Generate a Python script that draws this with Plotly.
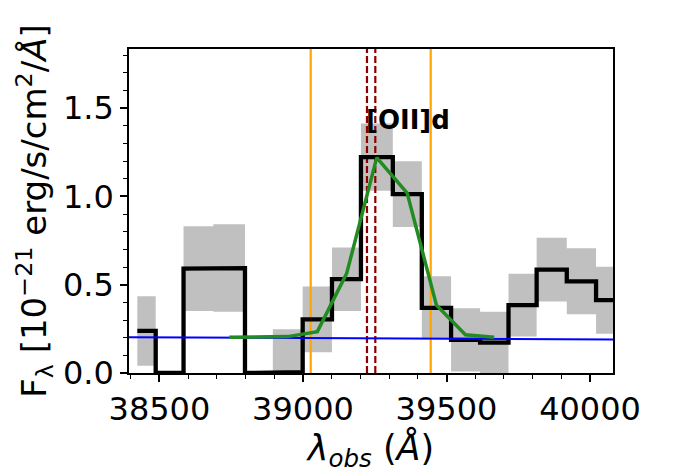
import numpy as np
import plotly.graph_objects as go

# Binned spectrum: bin edges (Angstrom), flux and 1-sigma error (1e-21 erg/s/cm^2/A)
bin_edges = [38423, 38487, 38584, 38688, 38798, 38895, 38999, 39101, 39202,
             39313, 39414, 39516, 39617, 39716, 39814, 39919, 40021, 40120]
flux = [0.238, 0.0, 0.591, 0.594, 0.0, 0.005, 0.304, 0.531, 1.222, 1.012,
        0.369, 0.188, 0.172, 0.384, 0.585, 0.519, 0.412]
flux_err = [0.197, 0.0, 0.240, 0.248, 0.0, 0.243, 0.186, 0.180, 0.190, 0.186,
            0.178, 0.179, 0.175, 0.178, 0.180, 0.187, 0.190]

# Best-fit line model evaluated at bin centres
model_wave = [38743, 38846, 38947, 39050, 39152, 39257, 39363, 39465, 39566, 39666]
model_flux = [0.203, 0.203, 0.206, 0.234, 0.5625, 1.219, 1.018, 0.384, 0.216, 0.203]

# Continuum level
cont_wave = [38394, 40080]
cont_flux = [0.203, 0.190]

# Integration window and [OII] doublet positions
window_lines = [39027, 39445]
oii_lines = [39223, 39252]
line_label = "[OII]d"
label_pos = (39213, 1.434)

x_range = [38394, 40080]
y_range = [0, 1.834]


def step_path(edges, values):
    xs, ys = [], []
    for i, v in enumerate(values):
        xs += [edges[i], edges[i + 1]]
        ys += [v, v]
    return xs, ys


lower = [f - e for f, e in zip(flux, flux_err)]
upper = [f + e for f, e in zip(flux, flux_err)]

fig = go.Figure()

xl, yl = step_path(bin_edges, lower)
xu, yu = step_path(bin_edges, upper)
fig.add_trace(go.Scatter(x=xl, y=yl, mode="lines", line=dict(width=0),
                         hoverinfo="skip"))
fig.add_trace(go.Scatter(x=xu, y=yu, mode="lines", line=dict(width=0),
                         fill="tonexty", fillcolor="rgb(192,192,192)",
                         hoverinfo="skip"))

for w in window_lines:
    fig.add_trace(go.Scatter(x=[w, w], y=y_range, mode="lines",
                             line=dict(color="orange", width=2.2)))
for w in oii_lines:
    fig.add_trace(go.Scatter(x=[w, w], y=y_range, mode="lines",
                             line=dict(color="darkred", width=2.2, dash="7px,3px")))

xs, ys = step_path(bin_edges, flux)
fig.add_trace(go.Scatter(x=xs, y=ys, mode="lines",
                         line=dict(color="black", width=4.3)))

fig.add_trace(go.Scatter(x=cont_wave, y=cont_flux, mode="lines",
                         line=dict(color="blue", width=2)))

fig.add_trace(go.Scatter(x=model_wave, y=model_flux, mode="lines",
                         line=dict(color="forestgreen", width=3.5)))

fig.add_annotation(x=label_pos[0], y=label_pos[1], text="<b>" + line_label + "</b>",
                   showarrow=False, xanchor="left", yanchor="middle",
                   font=dict(family="DejaVu Sans", size=26, color="black"))

axis_common = dict(
    showline=True, linecolor="black", linewidth=1.6, mirror=True,
    ticks="outside", ticklen=7, tickwidth=1.6, tickcolor="black",
    showgrid=False, zeroline=False,
    tickfont=dict(family="DejaVu Sans", size=32, color="black"),
)

fig.update_xaxes(
    range=x_range, dtick=500, tick0=0, tickformat="d",
    minor=dict(dtick=100, tick0=0, ticks="outside", ticklen=4,
               tickwidth=1.2, tickcolor="black"),
    title=dict(text="<i>λ</i><sub><i>obs</i></sub> (<i>Å</i>)",
               font=dict(family="DejaVu Sans", size=35, color="black"),
               standoff=8),
    **axis_common,
)
fig.update_yaxes(
    range=y_range, dtick=0.5, tick0=0, tickformat=".1f",
    minor=dict(dtick=0.1, tick0=0, ticks="outside", ticklen=4,
               tickwidth=1.2, tickcolor="black"),
    title=dict(text="F<sub>λ</sub> [10<sup>−21</sup> erg/s/cm<sup>2</sup>/<i>Å</i>]",
               font=dict(family="DejaVu Sans", size=34, color="black"),
               standoff=6),
    **axis_common,
)

fig.update_layout(
    width=679, height=473,
    margin=dict(l=129, r=66, t=49, b=98),
    paper_bgcolor="white", plot_bgcolor="white",
    showlegend=False,
)

fig.write_html("out.html")
